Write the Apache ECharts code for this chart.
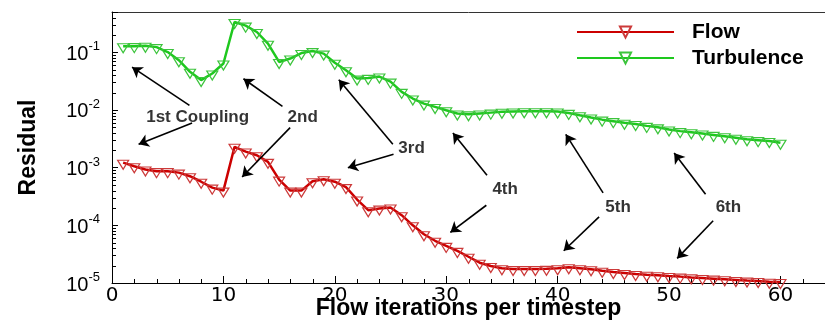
<!DOCTYPE html>
<html>
<head>
<meta charset="utf-8">
<script src="https://cdn.jsdelivr.net/npm/echarts@6/dist/echarts.min.js"></script>
<style>
html, body { margin: 0; padding: 0; background: #fff; }
#chart { width: 825px; height: 323px; }
</style>
</head>
<body>
<div id="chart"></div>
<script>
const iterations = [
  1, 2, 3, 4, 5, 6, 7, 8, 9, 10, 11, 12, 13, 14, 15, 16, 17, 18, 19, 20,
  21, 22, 23, 24, 25, 26, 27, 28, 29, 30, 31, 32, 33, 34, 35, 36, 37, 38, 39, 40,
  41, 42, 43, 44, 45, 46, 47, 48, 49, 50, 51, 52, 53, 54, 55, 56, 57, 58, 59, 60
]
const flowResidual = [
  0.00122, 0.00106, 0.00093, 0.00087, 0.00087, 0.00082, 0.00071, 0.00057, 0.00045, 0.0004,
  0.0023, 0.0019, 0.00164, 0.00126, 0.00062, 0.0004, 0.0004, 0.00058, 0.00063, 0.00057,
  0.00046, 0.00028, 0.000183, 0.000195, 0.000204, 0.00015, 0.0001, 0.00007, 0.000054, 0.000044,
  0.000036, 0.0000285, 0.0000225, 0.0000197, 0.000018, 0.0000175, 0.0000175, 0.0000175, 0.0000176, 0.000018,
  0.0000187, 0.000018, 0.0000173, 0.0000163, 0.0000155, 0.0000149, 0.0000143, 0.0000139, 0.0000136, 0.0000132,
  0.0000129, 0.0000125, 0.0000122, 0.0000119, 0.0000116, 0.0000113, 0.000011, 0.0000108, 0.0000105, 0.0000104
]
const turbulenceResidual = [
  0.127, 0.128, 0.13, 0.123, 0.101, 0.073, 0.046, 0.033, 0.043, 0.064,
  0.335, 0.29, 0.225, 0.141, 0.068, 0.078, 0.097, 0.105, 0.095, 0.066,
  0.049, 0.035, 0.036, 0.038, 0.031, 0.0206, 0.0158, 0.0129, 0.0113, 0.0099,
  0.0087, 0.0084, 0.0087, 0.009, 0.0093, 0.0094, 0.0095, 0.0095, 0.0095, 0.0094,
  0.0089, 0.0081, 0.0074, 0.0068, 0.0064, 0.006, 0.0057, 0.0053, 0.005, 0.0046,
  0.0043, 0.0041, 0.0039, 0.0037, 0.0035, 0.0033, 0.0031, 0.003, 0.0029, 0.0027
]
const yExponents = [-5, -4, -3, -2, -1]
const xTickLabels = [0, 10, 20, 30, 40, 50, 60]

// annotation texts and arrows, in data coordinates (iteration, residual)
const noteText = ['1st Coupling', '2nd', '3rd', '4th', '5th', '6th']
const noteX = [7.69, 17.12, 26.89, 35.29, 45.43, 55.33]
const noteY = [0.00753, 0.00753, 0.00214, 0.000423, 0.000209, 0.000209]
const arrowTail = [
  [6.95, 0.012], [7.19, 0.00593], [15.3, 0.01153], [15.99, 0.00494],
  [25.21, 0.00254], [25.27, 0.00171], [33.66, 0.00074], [33.6, 0.000223],
  [44.08, 0.000365], [43.72, 0.00014], [53.28, 0.000347], [53.96, 0.00012]
]
const arrowHead = [
  [1.8, 0.0552], [2.39, 0.00254], [11.8, 0.0348], [11.68, 0.00069],
  [20.36, 0.0334], [21.17, 0.001], [30.6, 0.00398], [30.37, 0.0000753],
  [40.73, 0.00378], [40.55, 0.0000362], [50.46, 0.00179], [50.73, 0.0000267]
]

const font = 'Liberation Sans, Arial, sans-serif'

// minor ticks (2..9 per decade on y, every 2 on x)
const yMinor = []
yExponents.forEach(e => {
  for (let k = 2; k <= 9; k++) {
    const v = k * Math.pow(10, e)
    if (v <= 0.5) yMinor.push([0, v])
  }
})
const xMinor = []
for (let v = 2; v <= 64; v += 2) {
  if (v % 10 !== 0) xMinor.push([v, 1e-5])
}

function minorTick(horizontal) {
  return function (params, api) {
    const p = api.coord([api.value(0), api.value(1)])
    const x = Math.round(p[0]) + 0.5
    const y = Math.round(p[1]) + 0.5
    return {
      type: 'line',
      shape: horizontal
        ? { x1: x - 0.5, y1: y, x2: x + 3.5, y2: y }
        : { x1: x, y1: y - 0.5, x2: x, y2: y - 4.5 },
      style: { stroke: '#000', lineWidth: 1 }
    }
  }
}

const chart = echarts.init(document.getElementById('chart'))
chart.setOption({
  animation: false,
  backgroundColor: '#fff',
  grid: { left: 112, top: 12, right: 0, bottom: 40, outerBoundsMode: 'none', containLabel: false },
  legend: {
    data: ['Flow', 'Turbulence'],
    orient: 'vertical',
    left: 576,
    top: 21,
    padding: 0,
    itemWidth: 97,
    itemHeight: 14,
    itemGap: 4,
    textStyle: {
      fontFamily: font,
      fontSize: 21,
      fontWeight: 'bold',
      color: '#000',
      lineHeight: 22,
      padding: [0, 0, 0, 13]
    }
  },
  xAxis: [
    {
      type: 'value',
      min: 0,
      max: 64,
      interval: 10,
      name: 'Flow iterations per timestep',
      nameLocation: 'middle',
      nameGap: 14,
      nameMoveOverlap: false,
      nameTextStyle: { fontFamily: font, fontSize: 23, fontWeight: 'bold', color: '#000' },
      axisLine: { show: true, onZero: false, lineStyle: { color: '#000', width: 1 } },
      axisTick: { show: true, inside: true, length: 7, lineStyle: { color: '#000' } },
      axisLabel: {
        margin: 3,
        fontFamily: 'DejaVu Sans',
        fontSize: 20,
        color: '#000',
        formatter: v => (xTickLabels.indexOf(v) >= 0 ? String(v) : '')
      },
      splitLine: { show: false }
    },
    {
      type: 'value',
      position: 'top',
      min: 0,
      max: 64,
      axisLine: { show: true, onZero: false, lineStyle: { color: '#333', width: 1 } },
      axisTick: { show: false },
      axisLabel: { show: false },
      splitLine: { show: false }
    }
  ],
  yAxis: {
    type: 'log',
    min: 1e-5,
    max: 0.5,
    name: 'Residual',
    nameLocation: 'middle',
    nameGap: 72,
    nameMoveOverlap: false,
    nameTextStyle: { fontFamily: font, fontSize: 23, fontWeight: 'bold', color: '#000' },
    axisLine: { show: true, lineStyle: { color: '#000', width: 1 } },
    axisTick: { show: true, inside: true, length: 6, lineStyle: { color: '#000' } },
    axisLabel: {
      margin: 12,
      color: '#000',
      formatter: v => {
        const e = Math.round(Math.log10(v))
        if (yExponents.indexOf(e) < 0 || Math.abs(Math.log10(v) - e) > 1e-6) return ''
        return '{b|10}{e|' + e + '}'
      },
      rich: {
        b: { fontFamily: font, fontSize: 20, lineHeight: 24, verticalAlign: 'bottom', color: '#000' },
        e: { fontFamily: font, fontSize: 13, lineHeight: 13, verticalAlign: 'top', color: '#000' }
      }
    },
    splitLine: { show: false }
  },
  series: [
    {
      name: 'Turbulence',
      type: 'line',
      data: iterations.map((x, i) => [x, turbulenceResidual[i]]),
      symbol: 'triangle',
      symbolRotate: 180,
      symbolSize: [11, 9],
      symbolOffset: [0, 2],
      lineStyle: { color: '#1ec81e', width: 2.5 },
      itemStyle: { color: 'rgba(0,0,0,0)', borderColor: '#3cc43c', borderWidth: 1.2 }
    },
    {
      name: 'Flow',
      type: 'line',
      data: iterations.map((x, i) => [x, flowResidual[i]]),
      symbol: 'triangle',
      symbolRotate: 180,
      symbolSize: [11, 9],
      symbolOffset: [0, 2],
      lineStyle: { color: '#cc0000', width: 2.5 },
      itemStyle: { color: 'rgba(0,0,0,0)', borderColor: '#cc3a3a', borderWidth: 1.2 }
    },
    {
      name: 'notes',
      type: 'scatter',
      silent: true,
      symbolSize: 1,
      itemStyle: { color: 'rgba(0,0,0,0)' },
      data: noteText.map((t, i) => ({ name: t, value: [noteX[i], noteY[i]] })),
      label: {
        show: true,
        position: 'inside',
        formatter: '{b}',
        fontFamily: font,
        fontSize: 17,
        fontWeight: 'bold',
        color: '#000'
      },
      markLine: {
        silent: true,
        symbol: ['none', 'arrow'],
        symbolSize: 10,
        label: { show: false },
        lineStyle: { color: '#000', width: 1.6, type: 'solid' },
        data: arrowTail.map((t, i) => [{ coord: t }, { coord: arrowHead[i] }])
      }
    },
    {
      type: 'custom',
      silent: true,
      renderItem: minorTick(true),
      data: yMinor
    },
    {
      type: 'custom',
      silent: true,
      renderItem: minorTick(false),
      data: xMinor
    }
  ]
})
</script>
</body>
</html>
